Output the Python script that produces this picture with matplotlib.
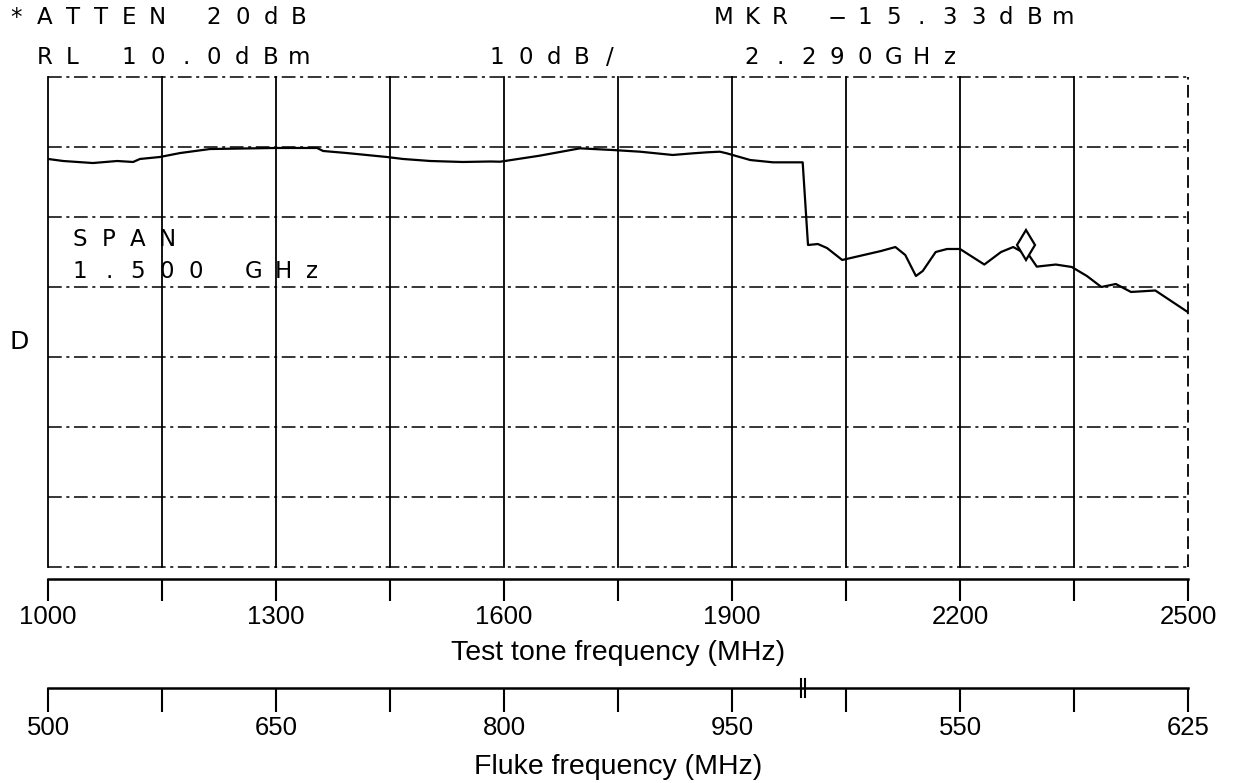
import matplotlib
matplotlib.use('Agg')
import matplotlib.pyplot as plt
import matplotlib.transforms as mtransforms

W, H = 1236, 783

# trace (test tone MHz, dBm)
freq_mhz = [1000, 1020, 1059, 1091, 1112, 1121, 1147, 1174, 1213, 1299,
            1354, 1362, 1393, 1446, 1467, 1503, 1546, 1582, 1595, 1647,
            1700, 1743, 1779, 1822, 1849, 1867, 1884, 1893, 1924, 1954,
            1993, 2000, 2013, 2025, 2045, 2096, 2115, 2128, 2142, 2151,
            2168, 2183, 2200, 2232, 2254, 2270, 2282, 2290, 2301, 2326,
            2347, 2367, 2386, 2405, 2425, 2457, 2500]
level_dbm = [-1.71, -2.0, -2.29, -2.0, -2.14, -1.71, -1.43, -0.86, -0.29, -0.14,
             -0.14, -0.57, -0.86, -1.43, -1.71, -2.0, -2.14, -2.07, -2.1, -1.24,
             -0.19, -0.43, -0.67, -1.14, -0.9, -0.76, -0.67, -0.9, -1.86, -2.19,
             -2.19, -14.0, -13.86, -14.43, -16.14, -14.86, -14.29, -15.43, -18.43, -17.71,
             -15.0, -14.57, -14.57, -16.79, -15.0, -14.29, -15.0, -15.33, -17.09, -16.79,
             -17.14, -18.43, -20.0, -19.57, -20.71, -20.5, -23.6]

marker_freq = 2290
marker_level = -15.33

grid_freqs = list(range(1000, 2501, 150))
grid_levels = list(range(10, -61, -10))
test_tick_labels = ['1000', '', '1300', '', '1600', '', '1900', '', '2200', '', '2500']
fluke_tick_labels = ['500', '', '650', '', '800', '', '950', '', '550', '', '625']
fluke_break = 1993

header_1 = '*ATTEN 20dB              MKR \u221215.33dBm'
header_2 = ' RL 10.0dBm      10dB/    2.290GHz'
span_1 = 'SPAN'
span_2 = '1.500 GHz'
side_label = 'D'


def px_box(left, top, width, height):
    return [left / W, 1 - (top + height) / H, width / W, height / H]


def plotter_text(fig, x0, y, s, pitch=28.3, size=16.5):
    # one glyph per cell, like the pen plotter's fixed pitch
    for i, ch in enumerate(s):
        if ch == ' ':
            continue
        fig.text((x0 + i * pitch) / W, 1 - y / H, ch, ha='center', va='center',
                 fontsize=size, family='DejaVu Sans')


fig = plt.figure(figsize=(W / 100, H / 100), dpi=100)

# display graticule + trace
ax = fig.add_axes(px_box(48, 77, 1140, 490))
ax.set_xlim(1000, 2500)
ax.set_ylim(-60, 10)
ax.axis('off')
for f in grid_freqs:
    ls = (0, (7, 3)) if f == 2500 else '-'
    ax.axvline(f, color='black', lw=1.3, ls=ls, clip_on=False)
for lv in grid_levels:
    ax.axhline(lv, color='black', lw=1.1, ls=(0, (9, 3, 2, 3)), clip_on=False)
ax.plot(freq_mhz, level_dbm, color='black', lw=1.6)
mk_tr = mtransforms.offset_copy(ax.transData, fig=fig, x=-2, y=9, units='dots')
ax.plot([marker_freq], [marker_level], marker='d', ms=15, mfc='white',
        mec='black', mew=1.6, transform=mk_tr, clip_on=False)

# test tone axis and Fluke axis underneath
ax_t = fig.add_axes(px_box(48, 567, 1140, 12))
ax_f = fig.add_axes(px_box(48, 676, 1140, 12))
for a, labels, title, tlen, lpad in [
        (ax_t, test_tick_labels, 'Test tone frequency (MHz)', 16, 8),
        (ax_f, fluke_tick_labels, 'Fluke frequency (MHz)', 17.5, 10)]:
    a.set_xlim(1000, 2500)
    a.set_ylim(0, 1)
    a.patch.set_visible(False)
    for s in ['top', 'left', 'right']:
        a.spines[s].set_visible(False)
    a.spines['bottom'].set_linewidth(1.8)
    a.set_yticks([])
    a.set_xticks(grid_freqs, labels)
    a.tick_params(axis='x', direction='out', length=tlen, width=1.5, pad=3,
                  labelsize=18.5)
    for lab in a.get_xticklabels():
        lab.set_family('Liberation Sans')
    a.set_xlabel(title, fontsize=20.5, family='Liberation Sans', labelpad=lpad)

# break mark on the Fluke scale
for dx in (-2.5, 2.5):
    ax_f.plot([fluke_break + dx] * 2, [-0.75, 0.75], color='black', lw=1.5,
              transform=ax_f.get_xaxis_transform(), clip_on=False)

# analyzer annotations
plotter_text(fig, 16, 18, header_1)
plotter_text(fig, 16, 57, header_2)
plotter_text(fig, 80, 240, span_1, pitch=29)
plotter_text(fig, 80, 271, span_2, pitch=29)
plotter_text(fig, 19, 342, side_label, size=18)

fig.savefig('out.png', dpi=100)
